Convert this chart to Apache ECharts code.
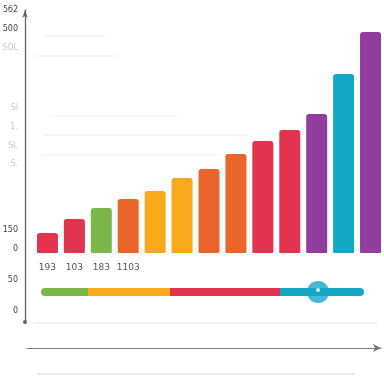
<!DOCTYPE html>
<html><head><meta charset="utf-8">
<script src="https://cdn.jsdelivr.net/npm/echarts@6/dist/echarts.min.js"></script>
<style>html,body{margin:0;padding:0;background:#fff}#c{width:384px;height:384px}</style>
</head><body><div id="c"></div>
<script>
// ---- data ----
const categories = ['193','103','183','1103','','','','','','','','',''];
const barValues = [20, 34, 45, 54, 62, 75, 84, 99, 112, 123, 139, 179, 221];
const barColors = ['#e2334f','#e2334f','#7ab648','#ea6529','#f8a91c','#f8a91c','#ea6529','#ea6529','#e2334f','#e2334f','#923d9e','#14a8c8','#923d9e'];
// left axis tick labels (value on the tall axis -> text)
const leftTickValues = [312, 293, 274, 214, 195, 176, 158, 92, 73, 42, 11];
const leftTickLabels = ['5б2','500','SOL','Sl','1.','Sl.','S.','150','0','50','0'];
const leftTickFaint  = [false,false,true,true,true,true,true,false,false,false,false];
// slider segments
const sliderSegments = [47, 82, 110, 84];
const sliderColors = ['#7ab648','#f8a91c','#e2334f','#14a8c8'];
const sliderHandle = 277;

const labelMap = {};
leftTickValues.forEach((v,i)=>{labelMap[v] = leftTickFaint[i] ? '{f|'+leftTickLabels[i]+'}' : '{d|'+leftTickLabels[i]+'}';});

const chart = echarts.init(document.getElementById('c'), null, {renderer:'canvas'});

const sliderSeries = sliderSegments.map((v,i)=>({
  type:'bar', xAxisIndex:1, yAxisIndex:1, stack:'s', barWidth:8, silent:true,
  data:[v],
  itemStyle:{color:sliderColors[i], borderRadius: i===0?[4,0,0,4]:(i===sliderSegments.length-1?[0,4,4,0]:0)}
}));

chart.setOption({
  animation:false,
  backgroundColor:'#fff',
  grid:[
    {left:34, width:351, top:3, bottom:131},
    {left:41, width:323, top:282, height:20},
    {left:24, width:1, top:10, bottom:62},
    {left:27, right:3, top:340, bottom:36}
  ],
  xAxis:[
    {type:'category', gridIndex:0, data:categories, axisLine:{show:false}, axisTick:{show:false},
     axisLabel:{interval:0, color:'#555', fontSize:9, margin:10, fontFamily:'DejaVu Sans'}},
    {type:'value', gridIndex:1, min:0, max:323, show:false},
    {type:'value', gridIndex:2, show:false},
    {type:'value', gridIndex:3, min:0, max:10, axisLabel:{show:false}, axisTick:{show:false}, splitLine:{show:false},
     axisLine:{show:true, onZero:false, lineStyle:{color:'#777', width:1.2}, symbol:['none','arrow'], symbolSize:[6,8]}}
  ],
  yAxis:[
    {type:'value', gridIndex:0, min:0, max:250, show:false},
    {type:'category', gridIndex:1, data:['a'], show:false},
    {type:'value', gridIndex:2, min:0, max:312, interval:1,
     axisLine:{show:true, lineStyle:{color:'#666', width:1.3}, symbol:['circle','arrow'], symbolSize:[4,8]},
     axisTick:{show:false}, splitLine:{show:false},
     axisLabel:{show:true, margin:7, fontSize:8, fontFamily:'DejaVu Sans',
       formatter:(v)=>labelMap[v]||'',
       rich:{d:{color:'#444', fontSize:8}, f:{color:'#c8c8c8', fontSize:8}}}},
    {type:'value', gridIndex:3, show:false}
  ],
  graphic:[
    {type:'line', shape:{x1:45,y1:36,x2:105,y2:36}, style:{stroke:'#ececec', lineWidth:1}},
    {type:'line', shape:{x1:37,y1:56,x2:118,y2:56}, style:{stroke:'#ececec', lineWidth:1}},
    {type:'line', shape:{x1:50,y1:116,x2:177,y2:116}, style:{stroke:'#f0f0f0', lineWidth:1}},
    {type:'line', shape:{x1:44,y1:135,x2:248,y2:135}, style:{stroke:'#e6e6e6', lineWidth:1}},
    {type:'line', shape:{x1:42,y1:155,x2:220,y2:155}, style:{stroke:'#ececec', lineWidth:1}},
    {type:'line', shape:{x1:33,y1:323,x2:378,y2:323}, style:{stroke:'#eeeeee', lineWidth:1.5}},
    {type:'line', shape:{x1:37,y1:374,x2:355,y2:374}, style:{stroke:'#e2e2e2', lineWidth:1.5}}
  ],
  series:[
    {type:'bar', xAxisIndex:0, yAxisIndex:0, barWidth:21,
     data:barValues.map((v,i)=>({value:v, itemStyle:{color:barColors[i]}})),
     itemStyle:{borderRadius:[3,3,1,1]}},
    ...sliderSeries,
    {type:'scatter', xAxisIndex:1, yAxisIndex:1, symbolSize:22, z:5, data:[[sliderHandle,'a']], itemStyle:{color:'#14a8c8'}},
    {type:'scatter', xAxisIndex:1, yAxisIndex:1, symbolSize:4, z:6, symbolOffset:[0,-2], data:[[sliderHandle,'a']], itemStyle:{color:'#fff'}}
  ]
});
</script></body></html>
